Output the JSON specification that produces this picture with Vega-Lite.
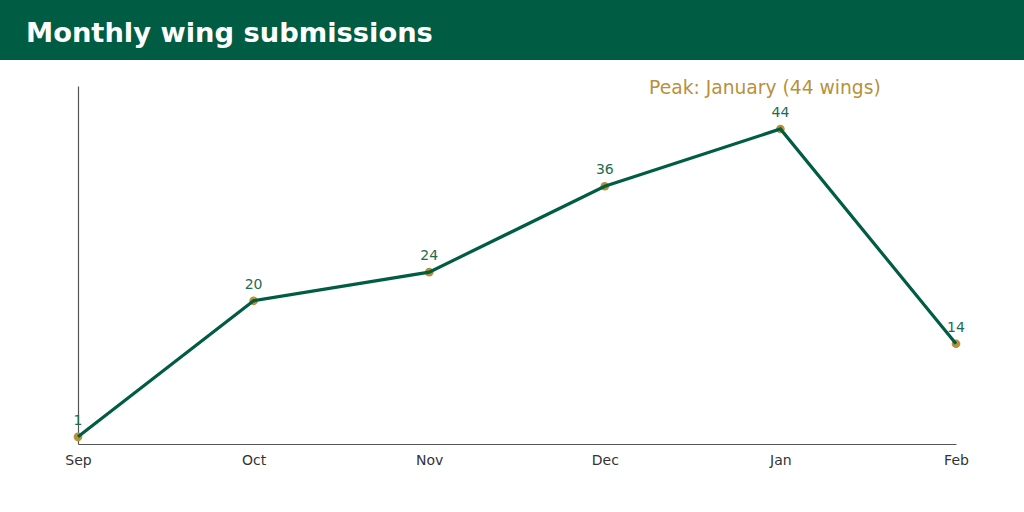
{
  "$schema": "https://vega.github.io/schema/vega-lite/v6.json",
  "padding": 0,
  "autosize": {"type": "pad"},
  "title": {"text": "Monthly wing submissions", "anchor": "start", "frame": "bounds", "orient": "top", "baseline": "middle", "offset": -61, "dx": 26, "fontSize": 27.3, "fontWeight": "bold", "color": "white", "font": "DejaVu Sans"},
  "columns": 1,
  "align": "none",
  "spacing": 19,
  "background": "white",
  "config": {
    "font": "DejaVu Sans",
    "view": {"stroke": null}
  },
  "concat": [
    {
      "width": 1024,
      "height": 60,
      "view": {"fill": "#005C42", "stroke": null},
      "data": {"values": []},
      "mark": {"type": "point", "opacity": 0},
      "encoding": {}
    },
    {
      "spacing": 0,
      "hconcat": [
        {
          "width": 60,
          "height": 358,
          "data": {"values": []},
          "mark": {"type": "point", "opacity": 0},
          "encoding": {}
        },
        {
          "width": 878,
          "height": 358,
          "data": {"values": [
            {"month": "Sep", "wings": 1},
            {"month": "Oct", "wings": 20},
            {"month": "Nov", "wings": 24},
            {"month": "Dec", "wings": 36},
            {"month": "Jan", "wings": 44},
            {"month": "Feb", "wings": 14}
          ]},
          "encoding": {
            "x": {"field": "month", "type": "ordinal", "sort": null, "scale": {"type": "point", "padding": 0},
              "axis": {"title": null, "labelAngle": 0, "ticks": false, "domainColor": "#555555", "domainWidth": 1.2, "labelColor": "#333333", "labelFontSize": 14, "labelPadding": 9.5, "labelFont": "DejaVu Sans", "grid": false}},
            "y": {"field": "wings", "type": "quantitative", "scale": {"domain": [0, 50], "nice": false},
              "axis": {"title": null, "labels": false, "ticks": false, "grid": false, "domainColor": "#555555", "domainWidth": 1.2, "minExtent": 18, "maxExtent": 18}}
          },
          "layer": [
            {"mark": {"type": "point", "filled": true, "color": "#B8913A", "size": 75, "opacity": 1}},
            {"mark": {"type": "line", "color": "#005C42", "strokeWidth": 3.2}},
            {"mark": {"type": "text", "color": "#1E6B50", "fontSize": 14, "baseline": "bottom", "dy": -9, "font": "DejaVu Sans"},
             "encoding": {"text": {"field": "wings", "type": "quantitative"}}},
            {"data": {"values": [{"label": "Peak: January (44 wings)", "month": "Jan", "wings": 50}]},
             "mark": {"type": "text", "color": "#B8913A", "fontSize": 18.7, "baseline": "middle", "align": "center", "dx": -15.5, "dy": 2, "font": "DejaVu Sans"},
             "encoding": {"text": {"field": "label"}}}
          ]
        }
      ]
    }
  ]
}
